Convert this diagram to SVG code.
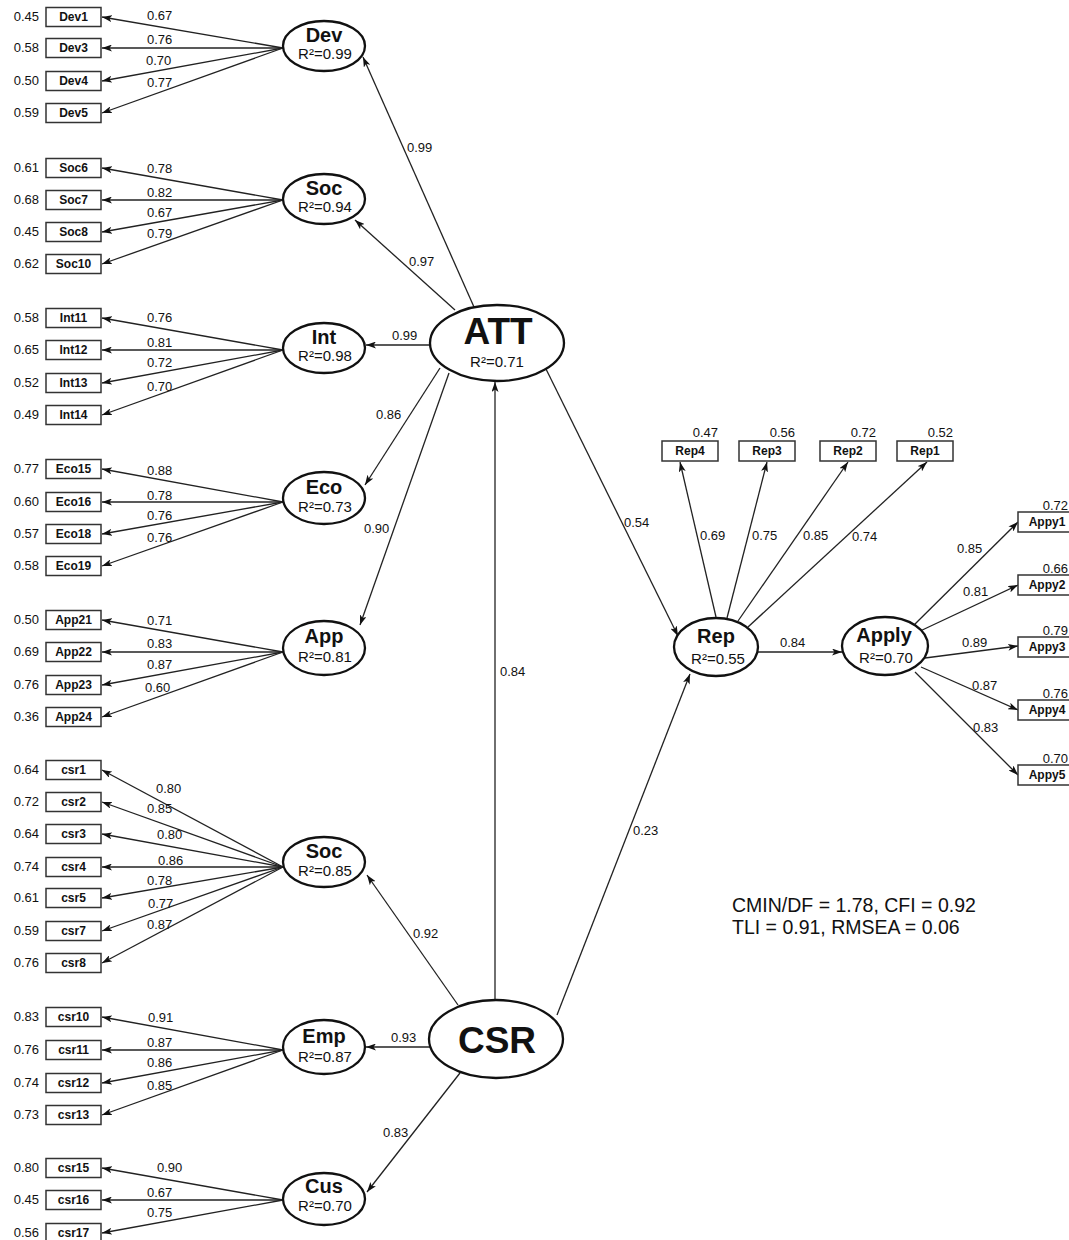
<svg xmlns="http://www.w3.org/2000/svg" width="1069" height="1240" viewBox="0 0 1069 1240">
<defs>
<marker id="ah" viewBox="0 0 10 7" refX="10" refY="3.5" markerWidth="10" markerHeight="7" markerUnits="userSpaceOnUse" orient="auto">
<path d="M0,0 L10,3.5 L0,7 L2.5,3.5 z" fill="#111"/>
</marker>
<style>
text{font-family:"Liberation Sans",Arial,sans-serif;fill:#111}
.box{fill:#fff;stroke:#333;stroke-width:1.5}
.lat{fill:#fff;stroke:#111;stroke-width:2.3}
.c{stroke:#222;stroke-width:1.3;fill:none;marker-end:url(#ah)}
.n{font-size:13px}
.e{font-size:13px;text-anchor:end}
.bl{font-size:12px;font-weight:bold;text-anchor:middle}
.nm{font-size:20px;font-weight:bold;text-anchor:middle}
.r2{font-size:15px;text-anchor:middle}
.big{font-size:37px;font-weight:bold;text-anchor:middle}
.fit{font-size:19.5px}
</style>
</defs>
<rect width="1069" height="1240" fill="#fff"/>

<g id="connectors">
<line class="c" x1="283" y1="48" x2="102" y2="17"/>
<line class="c" x1="283" y1="48" x2="102" y2="48"/>
<line class="c" x1="283" y1="48" x2="102" y2="81"/>
<line class="c" x1="283" y1="48" x2="102" y2="113"/>
<line class="c" x1="283" y1="200" x2="102" y2="168"/>
<line class="c" x1="283" y1="200" x2="102" y2="200"/>
<line class="c" x1="283" y1="200" x2="102" y2="232"/>
<line class="c" x1="283" y1="200" x2="102" y2="264"/>
<line class="c" x1="283" y1="350" x2="102" y2="318"/>
<line class="c" x1="283" y1="350" x2="102" y2="350"/>
<line class="c" x1="283" y1="350" x2="102" y2="383"/>
<line class="c" x1="283" y1="350" x2="102" y2="415"/>
<line class="c" x1="283" y1="502" x2="102" y2="469"/>
<line class="c" x1="283" y1="502" x2="102" y2="502"/>
<line class="c" x1="283" y1="502" x2="102" y2="534"/>
<line class="c" x1="283" y1="502" x2="102" y2="566"/>
<line class="c" x1="283" y1="652" x2="102" y2="620"/>
<line class="c" x1="283" y1="652" x2="102" y2="652"/>
<line class="c" x1="283" y1="652" x2="102" y2="685"/>
<line class="c" x1="283" y1="652" x2="102" y2="717"/>
<line class="c" x1="283" y1="867" x2="102" y2="770"/>
<line class="c" x1="283" y1="867" x2="102" y2="802"/>
<line class="c" x1="283" y1="867" x2="102" y2="834"/>
<line class="c" x1="283" y1="867" x2="102" y2="867"/>
<line class="c" x1="283" y1="867" x2="102" y2="898"/>
<line class="c" x1="283" y1="867" x2="102" y2="931"/>
<line class="c" x1="283" y1="867" x2="102" y2="963"/>
<line class="c" x1="283" y1="1050" x2="102" y2="1017"/>
<line class="c" x1="283" y1="1050" x2="102" y2="1050"/>
<line class="c" x1="283" y1="1050" x2="102" y2="1083"/>
<line class="c" x1="283" y1="1050" x2="102" y2="1115"/>
<line class="c" x1="283" y1="1200" x2="102" y2="1168"/>
<line class="c" x1="283" y1="1200" x2="102" y2="1200"/>
<line class="c" x1="283" y1="1200" x2="102" y2="1233"/>
<line class="c" x1="474" y1="307" x2="363" y2="57"/>
<line class="c" x1="455" y1="310" x2="355" y2="220"/>
<line class="c" x1="430" y1="345" x2="366" y2="345"/>
<line class="c" x1="440" y1="368" x2="365" y2="485"/>
<line class="c" x1="449" y1="373" x2="360" y2="625"/>
<line class="c" x1="495" y1="1000" x2="495" y2="382"/>
<line class="c" x1="546" y1="369" x2="678" y2="636"/>
<line class="c" x1="557" y1="1015" x2="690" y2="674"/>
<line class="c" x1="458" y1="1005" x2="367" y2="875"/>
<line class="c" x1="430" y1="1047" x2="366" y2="1047"/>
<line class="c" x1="460" y1="1073" x2="367" y2="1192"/>
<line class="c" x1="758" y1="652" x2="842" y2="652"/>
<line class="c" x1="716" y1="617" x2="680" y2="462"/>
<line class="c" x1="727" y1="618" x2="767" y2="462"/>
<line class="c" x1="738" y1="621" x2="848" y2="462"/>
<line class="c" x1="748" y1="627" x2="927" y2="462"/>
<line class="c" x1="913" y1="626" x2="1018" y2="522"/>
<line class="c" x1="918" y1="632" x2="1018" y2="585"/>
<line class="c" x1="925" y1="658" x2="1018" y2="646"/>
<line class="c" x1="921" y1="667" x2="1018" y2="710"/>
<line class="c" x1="915" y1="672" x2="1018" y2="775"/>

<g id="connector-labels">
<text class="n" x="147" y="20">0.67</text>
<text class="n" x="147" y="44">0.76</text>
<text class="n" x="146" y="65">0.70</text>
<text class="n" x="147" y="87">0.77</text>
<text class="n" x="147" y="173">0.78</text>
<text class="n" x="147" y="197">0.82</text>
<text class="n" x="147" y="217">0.67</text>
<text class="n" x="147" y="238">0.79</text>
<text class="n" x="147" y="322">0.76</text>
<text class="n" x="147" y="347">0.81</text>
<text class="n" x="147" y="367">0.72</text>
<text class="n" x="147" y="391">0.70</text>
<text class="n" x="147" y="475">0.88</text>
<text class="n" x="147" y="500">0.78</text>
<text class="n" x="147" y="520">0.76</text>
<text class="n" x="147" y="542">0.76</text>
<text class="n" x="147" y="625">0.71</text>
<text class="n" x="147" y="648">0.83</text>
<text class="n" x="147" y="669">0.87</text>
<text class="n" x="145" y="692">0.60</text>
<text class="n" x="156" y="793">0.80</text>
<text class="n" x="147" y="813">0.85</text>
<text class="n" x="157" y="839">0.80</text>
<text class="n" x="158" y="865">0.86</text>
<text class="n" x="147" y="885">0.78</text>
<text class="n" x="148" y="908">0.77</text>
<text class="n" x="147" y="929">0.87</text>
<text class="n" x="148" y="1022">0.91</text>
<text class="n" x="147" y="1047">0.87</text>
<text class="n" x="147" y="1067">0.86</text>
<text class="n" x="147" y="1090">0.85</text>
<text class="n" x="157" y="1172">0.90</text>
<text class="n" x="147" y="1197">0.67</text>
<text class="n" x="147" y="1217">0.75</text>
<text class="n" x="407" y="152">0.99</text>
<text class="n" x="409" y="266">0.97</text>
<text class="n" x="392" y="340">0.99</text>
<text class="n" x="376" y="419">0.86</text>
<text class="n" x="364" y="533">0.90</text>
<text class="n" x="500" y="676">0.84</text>
<text class="n" x="624" y="527">0.54</text>
<text class="n" x="633" y="835">0.23</text>
<text class="n" x="413" y="938">0.92</text>
<text class="n" x="391" y="1042">0.93</text>
<text class="n" x="383" y="1137">0.83</text>
<text class="n" x="780" y="647">0.84</text>
<text class="n" x="700" y="540">0.69</text>
<text class="n" x="752" y="540">0.75</text>
<text class="n" x="803" y="540">0.85</text>
<text class="n" x="852" y="541">0.74</text>
<text class="n" x="957" y="553">0.85</text>
<text class="n" x="963" y="596">0.81</text>
<text class="n" x="962" y="647">0.89</text>
<text class="n" x="972" y="690">0.87</text>
<text class="n" x="973" y="732">0.83</text>
</g>
</g>

<g id="Dev1"><text class="e" x="39" y="21">0.45</text><rect class="box" x="46" y="7.5" width="55" height="19"/><text class="bl" x="73.5" y="21">Dev1</text></g>
<g id="Dev3"><text class="e" x="39" y="52">0.58</text><rect class="box" x="46" y="38.5" width="55" height="19"/><text class="bl" x="73.5" y="52">Dev3</text></g>
<g id="Dev4"><text class="e" x="39" y="85">0.50</text><rect class="box" x="46" y="71.5" width="55" height="19"/><text class="bl" x="73.5" y="85">Dev4</text></g>
<g id="Dev5"><text class="e" x="39" y="117">0.59</text><rect class="box" x="46" y="103.5" width="55" height="19"/><text class="bl" x="73.5" y="117">Dev5</text></g>

<g id="Soc6"><text class="e" x="39" y="172">0.61</text><rect class="box" x="46" y="158.5" width="55" height="19"/><text class="bl" x="73.5" y="172">Soc6</text></g>
<g id="Soc7"><text class="e" x="39" y="204">0.68</text><rect class="box" x="46" y="190.5" width="55" height="19"/><text class="bl" x="73.5" y="204">Soc7</text></g>
<g id="Soc8"><text class="e" x="39" y="236">0.45</text><rect class="box" x="46" y="222.5" width="55" height="19"/><text class="bl" x="73.5" y="236">Soc8</text></g>
<g id="Soc10"><text class="e" x="39" y="268">0.62</text><rect class="box" x="46" y="254.5" width="55" height="19"/><text class="bl" x="73.5" y="268">Soc10</text></g>

<g id="Int11"><text class="e" x="39" y="322">0.58</text><rect class="box" x="46" y="308.5" width="55" height="19"/><text class="bl" x="73.5" y="322">Int11</text></g>
<g id="Int12"><text class="e" x="39" y="354">0.65</text><rect class="box" x="46" y="340.5" width="55" height="19"/><text class="bl" x="73.5" y="354">Int12</text></g>
<g id="Int13"><text class="e" x="39" y="387">0.52</text><rect class="box" x="46" y="373.5" width="55" height="19"/><text class="bl" x="73.5" y="387">Int13</text></g>
<g id="Int14"><text class="e" x="39" y="419">0.49</text><rect class="box" x="46" y="405.5" width="55" height="19"/><text class="bl" x="73.5" y="419">Int14</text></g>

<g id="Eco15"><text class="e" x="39" y="473">0.77</text><rect class="box" x="46" y="459.5" width="55" height="19"/><text class="bl" x="73.5" y="473">Eco15</text></g>
<g id="Eco16"><text class="e" x="39" y="506">0.60</text><rect class="box" x="46" y="492.5" width="55" height="19"/><text class="bl" x="73.5" y="506">Eco16</text></g>
<g id="Eco18"><text class="e" x="39" y="538">0.57</text><rect class="box" x="46" y="524.5" width="55" height="19"/><text class="bl" x="73.5" y="538">Eco18</text></g>
<g id="Eco19"><text class="e" x="39" y="570">0.58</text><rect class="box" x="46" y="556.5" width="55" height="19"/><text class="bl" x="73.5" y="570">Eco19</text></g>

<g id="App21"><text class="e" x="39" y="624">0.50</text><rect class="box" x="46" y="610.5" width="55" height="19"/><text class="bl" x="73.5" y="624">App21</text></g>
<g id="App22"><text class="e" x="39" y="656">0.69</text><rect class="box" x="46" y="642.5" width="55" height="19"/><text class="bl" x="73.5" y="656">App22</text></g>
<g id="App23"><text class="e" x="39" y="689">0.76</text><rect class="box" x="46" y="675.5" width="55" height="19"/><text class="bl" x="73.5" y="689">App23</text></g>
<g id="App24"><text class="e" x="39" y="721">0.36</text><rect class="box" x="46" y="707.5" width="55" height="19"/><text class="bl" x="73.5" y="721">App24</text></g>

<g id="csr1"><text class="e" x="39" y="774">0.64</text><rect class="box" x="46" y="760.5" width="55" height="19"/><text class="bl" x="73.5" y="774">csr1</text></g>
<g id="csr2"><text class="e" x="39" y="806">0.72</text><rect class="box" x="46" y="792.5" width="55" height="19"/><text class="bl" x="73.5" y="806">csr2</text></g>
<g id="csr3"><text class="e" x="39" y="838">0.64</text><rect class="box" x="46" y="824.5" width="55" height="19"/><text class="bl" x="73.5" y="838">csr3</text></g>
<g id="csr4"><text class="e" x="39" y="871">0.74</text><rect class="box" x="46" y="857.5" width="55" height="19"/><text class="bl" x="73.5" y="871">csr4</text></g>
<g id="csr5"><text class="e" x="39" y="902">0.61</text><rect class="box" x="46" y="888.5" width="55" height="19"/><text class="bl" x="73.5" y="902">csr5</text></g>
<g id="csr7"><text class="e" x="39" y="935">0.59</text><rect class="box" x="46" y="921.5" width="55" height="19"/><text class="bl" x="73.5" y="935">csr7</text></g>
<g id="csr8"><text class="e" x="39" y="967">0.76</text><rect class="box" x="46" y="953.5" width="55" height="19"/><text class="bl" x="73.5" y="967">csr8</text></g>

<g id="csr10"><text class="e" x="39" y="1021">0.83</text><rect class="box" x="46" y="1007.5" width="55" height="19"/><text class="bl" x="73.5" y="1021">csr10</text></g>
<g id="csr11"><text class="e" x="39" y="1054">0.76</text><rect class="box" x="46" y="1040.5" width="55" height="19"/><text class="bl" x="73.5" y="1054">csr11</text></g>
<g id="csr12"><text class="e" x="39" y="1087">0.74</text><rect class="box" x="46" y="1073.5" width="55" height="19"/><text class="bl" x="73.5" y="1087">csr12</text></g>
<g id="csr13"><text class="e" x="39" y="1119">0.73</text><rect class="box" x="46" y="1105.5" width="55" height="19"/><text class="bl" x="73.5" y="1119">csr13</text></g>

<g id="csr15"><text class="e" x="39" y="1172">0.80</text><rect class="box" x="46" y="1158.5" width="55" height="19"/><text class="bl" x="73.5" y="1172">csr15</text></g>
<g id="csr16"><text class="e" x="39" y="1204">0.45</text><rect class="box" x="46" y="1190.5" width="55" height="19"/><text class="bl" x="73.5" y="1204">csr16</text></g>
<g id="csr17"><text class="e" x="39" y="1237">0.56</text><rect class="box" x="46" y="1223.5" width="55" height="19"/><text class="bl" x="73.5" y="1237">csr17</text></g>

<g id="Dev"><ellipse class="lat" cx="324" cy="46" rx="41" ry="25"/><text class="nm" x="324" y="42">Dev</text><text class="r2" x="325" y="59">R²=0.99</text></g>
<g id="Soc-ATT"><ellipse class="lat" cx="324" cy="199" rx="41" ry="25"/><text class="nm" x="324" y="195">Soc</text><text class="r2" x="325" y="212">R²=0.94</text></g>
<g id="Int"><ellipse class="lat" cx="324" cy="348" rx="41" ry="25"/><text class="nm" x="324" y="344">Int</text><text class="r2" x="325" y="361">R²=0.98</text></g>
<g id="Eco"><ellipse class="lat" cx="324" cy="498" rx="41" ry="26"/><text class="nm" x="324" y="494">Eco</text><text class="r2" x="325" y="512">R²=0.73</text></g>
<g id="App"><ellipse class="lat" cx="324" cy="648" rx="41" ry="27"/><text class="nm" x="324" y="643">App</text><text class="r2" x="325" y="662">R²=0.81</text></g>
<g id="Soc-CSR"><ellipse class="lat" cx="324" cy="862" rx="41" ry="25"/><text class="nm" x="324" y="858">Soc</text><text class="r2" x="325" y="876">R²=0.85</text></g>
<g id="Emp"><ellipse class="lat" cx="324" cy="1047" rx="41" ry="27"/><text class="nm" x="324" y="1043">Emp</text><text class="r2" x="325" y="1062">R²=0.87</text></g>
<g id="Cus"><ellipse class="lat" cx="324" cy="1199" rx="41" ry="26"/><text class="nm" x="324" y="1193">Cus</text><text class="r2" x="325" y="1211">R²=0.70</text></g>

<g id="ATT"><ellipse class="lat" cx="497" cy="343" rx="67" ry="38"/><text class="big" x="498" y="344">ATT</text><text class="r2" x="497" y="367">R²=0.71</text></g>
<g id="CSR"><ellipse class="lat" cx="496" cy="1039" rx="67" ry="39"/><text class="big" x="497" y="1053">CSR</text></g>

<g id="Rep"><ellipse class="lat" cx="716" cy="647" rx="42" ry="29"/><text class="nm" x="716" y="643">Rep</text><text class="r2" x="718" y="664">R²=0.55</text></g>
<g id="Apply"><ellipse class="lat" cx="885" cy="646" rx="43" ry="29"/><text class="nm" x="884" y="642">Apply</text><text class="r2" x="886" y="663">R²=0.70</text></g>

<g id="Rep4"><text class="e" x="718" y="437">0.47</text><rect class="box" x="662" y="441" width="56" height="20"/><text class="bl" x="690" y="455">Rep4</text></g>
<g id="Rep3"><text class="e" x="795" y="437">0.56</text><rect class="box" x="739" y="441" width="56" height="20"/><text class="bl" x="767" y="455">Rep3</text></g>
<g id="Rep2"><text class="e" x="876" y="437">0.72</text><rect class="box" x="820" y="441" width="56" height="20"/><text class="bl" x="848" y="455">Rep2</text></g>
<g id="Rep1"><text class="e" x="953" y="437">0.52</text><rect class="box" x="897" y="441" width="56" height="20"/><text class="bl" x="925" y="455">Rep1</text></g>

<g id="Appy1"><text class="e" x="1068" y="510">0.72</text><rect class="box" x="1018" y="512" width="58" height="20"/><text class="bl" x="1047" y="526">Appy1</text></g>
<g id="Appy2"><text class="e" x="1068" y="573">0.66</text><rect class="box" x="1018" y="575" width="58" height="20"/><text class="bl" x="1047" y="589">Appy2</text></g>
<g id="Appy3"><text class="e" x="1068" y="635">0.79</text><rect class="box" x="1018" y="637" width="58" height="20"/><text class="bl" x="1047" y="651">Appy3</text></g>
<g id="Appy4"><text class="e" x="1068" y="698">0.76</text><rect class="box" x="1018" y="700" width="58" height="20"/><text class="bl" x="1047" y="714">Appy4</text></g>
<g id="Appy5"><text class="e" x="1068" y="763">0.70</text><rect class="box" x="1018" y="765" width="58" height="20"/><text class="bl" x="1047" y="779">Appy5</text></g>

<g id="fit-indices">
<text class="fit" x="732" y="912">CMIN/DF = 1.78, CFI = 0.92</text>
<text class="fit" x="732" y="934">TLI = 0.91, RMSEA = 0.06</text>
</g>
</svg>
